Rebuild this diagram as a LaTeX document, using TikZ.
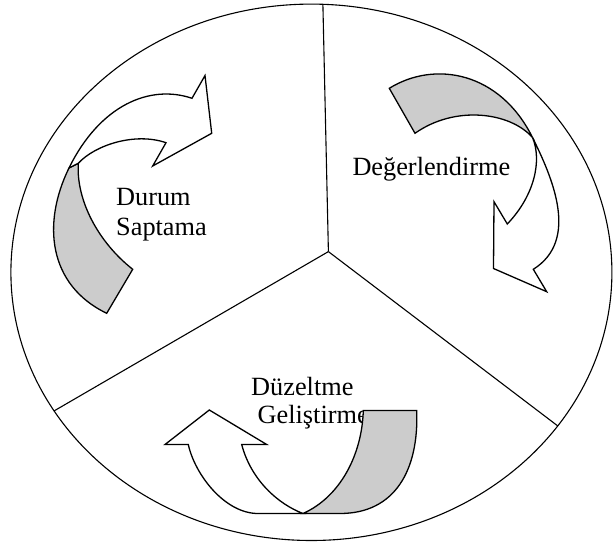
\documentclass[tikz,border=0pt]{standalone}
\usepackage{fontspec}
\setmainfont{Liberation Serif}
\usetikzlibrary{calc}
\definecolor{bandgray}{RGB}{204,204,204}
\begin{document}
\begin{tikzpicture}[x=1pt,y=-1pt,
  rim/.style={draw=black,line width=1.1pt},
  spoke/.style={draw=black,line width=1.1pt},
  band/.style={draw=black,line width=1.3pt,line join=miter},
  backside/.style={band,fill=bandgray},
  frontside/.style={band,fill=white},
  lbl/.style={anchor=base west,inner sep=0pt,font=\fontsize{26.3}{30}\selectfont}]
% page
\fill[white] (0,0) rectangle (613,545);
\useasboundingbox (0,0) rectangle (613,545);

% outer ring and the three sector borders
\coordinate (C) at (311.4,272.3);
\coordinate (hub) at (328.4,251.6);
\coordinate (topEnd) at (322.9,4.8);
\coordinate (leftEnd) at (58.6,408.3);
\coordinate (rightEnd) at (561.8,429);
\begin{scope}
  \clip (C) ellipse [x radius=300.5pt, y radius=268.2pt];
  \draw[spoke] (hub) -- ($(hub)!1.1!(topEnd)$);
  \draw[spoke] (hub) -- ($(hub)!1.1!(leftEnd)$);
  \draw[spoke] (hub) -- ($(hub)!1.1!(rightEnd)$);
\end{scope}
\draw[rim] (C) ellipse [x radius=300.5pt, y radius=268.2pt];

% sector labels
\node[lbl] (durum) at (116,205.7) {Durum};
\node[lbl] (saptama) at (116,235.8) {Saptama};
\node[lbl] (degerl) at (352.3,176) {Değerlendirme};
\node[lbl] (duzeltme) at (251,395) {Düzeltme};
\node[lbl] (gelistirme) at (257.5,423.5) {Geliştirme};

% --- curved arrow, upper left sector ---
\coordinate (a1tailO) at (106.7,313.3);
\coordinate (a1tailI) at (132.7,269.3);
\coordinate (a1P) at (69,168);
\coordinate (a1Q) at (78.3,163.3);
\coordinate (a1neckO) at (192,98.3);
\coordinate (a1barbT) at (205,75.5);
\coordinate (a1tip) at (211.7,133.3);
\coordinate (a1barbB) at (152.7,166);
\coordinate (a1neckI) at (166,142.7);
\draw[backside] (a1P) .. controls (42,223) and (48,285) .. (a1tailO)
  -- (a1tailI) .. controls (98,242) and (76,200) .. (a1Q) -- cycle;
\draw[frontside] (a1neckO) .. controls (150,84) and (100,105) .. (a1P)
  -- (a1Q) .. controls (95,145) and (135,132) .. (a1neckI)
  -- (a1barbB) -- (a1tip) -- (a1barbT) -- cycle;

% --- curved arrow, right sector ---
\coordinate (a2tailO) at (389.3,88.3);
\coordinate (a2tailI) at (415,133.3);
\coordinate (a2J) at (532.5,137.5);
\coordinate (a2neckO) at (533.3,269.3);
\coordinate (a2barbR) at (546.7,291.7);
\coordinate (a2tip) at (493.5,268.5);
\coordinate (a2barbL) at (494,201.7);
\coordinate (a2neckI) at (507.3,224);
\draw[backside] (a2tailO) .. controls (435,60) and (500,72) .. (a2J)
  .. controls (510,112) and (455,105) .. (a2tailI) -- cycle;
\draw[frontside] (a2J) .. controls (552,177) and (580,240) .. (a2neckO)
  -- (a2barbR) -- (a2tip) -- (a2barbL) -- (a2neckI)
  .. controls (535,195) and (542,160) .. (a2J) -- cycle;

% --- curved arrow, bottom sector ---
\coordinate (a3tailL) at (363.3,410.5);
\coordinate (a3tailR) at (416.7,410.5);
\coordinate (a3foot) at (340,513.5);
\coordinate (a3J) at (303,513.5);
\coordinate (a3heel) at (258,513.5);
\coordinate (a3neckL) at (188.3,444.5);
\coordinate (a3barbL) at (165,444.5);
\coordinate (a3tip) at (209.3,410);
\coordinate (a3barbR) at (266.7,444.5);
\coordinate (a3neckR) at (241.7,444.5);
\draw[backside] (a3tailL) -- (a3tailR) .. controls (419,470) and (395,513.5) .. (a3foot)
  -- (a3J) .. controls (340,497) and (362,455) .. (a3tailL) -- cycle;
\draw[frontside] (a3neckL) -- (a3barbL) -- (a3tip) -- (a3barbR) -- (a3neckR)
  .. controls (251,480) and (278,504) .. (a3J) -- (a3heel)
  .. controls (225,513.5) and (195,475) .. (a3neckL) -- cycle;
\end{tikzpicture}
\end{document}
